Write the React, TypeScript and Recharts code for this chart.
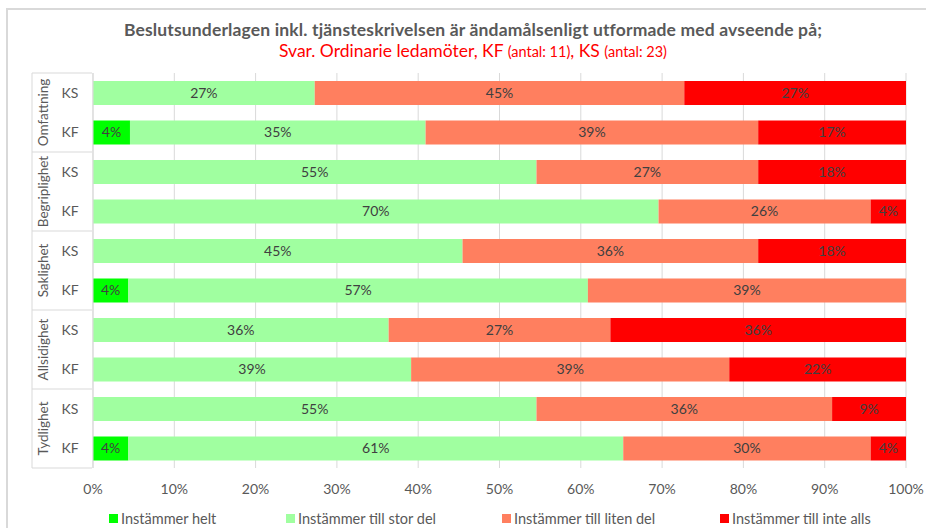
import { Bar, BarChart, CartesianGrid, LabelList, Legend, XAxis, YAxis } from "recharts";

const groups = ["Omfattning", "Begriplighet", "Saklighet", "Allsidighet", "Tydlighet"];
const bodies = ["KS", "KF"];

// raw shares per row (group x body), top to bottom
const helt = [0, 4.35, 0, 0, 0, 4.35, 0, 0, 0, 4.35];
const storDel = [27.27, 34.78, 54.55, 69.57, 45.45, 56.52, 36.36, 39.13, 54.55, 60.87];
const litenDel = [45.45, 39.13, 27.27, 26.09, 36.36, 39.13, 27.27, 39.13, 36.36, 30.43];
const inteAlls = [27.27, 17.39, 18.18, 4.35, 18.18, 0, 36.36, 21.74, 9.09, 4.35];

const xTicks = [0, 0.1, 0.2, 0.3, 0.4, 0.5, 0.6, 0.7, 0.8, 0.9, 1];

const series = [
  { key: "helt", name: "Instämmer helt", color: "#00FF00" },
  { key: "stor", name: "Instämmer till stor del", color: "#A0FFA0" },
  { key: "liten", name: "Instämmer till liten del", color: "#FF7F5F" },
  { key: "inte", name: "Instämmer till inte alls", color: "#FF0000" },
];

const rows = groups.flatMap((g, gi) =>
  bodies.map((b, bi) => {
    const i = gi * 2 + bi;
    return {
      id: `${g}|${b}`,
      helt: helt[i],
      stor: storDel[i],
      liten: litenDel[i],
      inte: inteAlls[i],
    };
  })
);

const FONT = "Lato, 'Open Sans', sans-serif";
const TOP = 73;
const BOTTOM = 468;
const ROW = (BOTTOM - TOP) / rows.length;

function GroupTick(props: any) {
  const { y, payload, index } = props;
  const [group, body] = String(payload.value).split("|");
  const isFirst = index % 2 === 0;
  return (
    <g>
      <text x={70} y={y} dy={5} textAnchor="middle" fill="#595959" fontSize={14} fontFamily={FONT}>
        {body}
      </text>
      {isFirst && (
        <g>
          <line x1={32} x2={92} y1={y - ROW / 2} y2={y - ROW / 2} stroke="#d9d9d9" />
          <line x1={32} x2={32} y1={y - ROW / 2} y2={y + ROW * 1.5} stroke="#d9d9d9" />
          <text
            x={43}
            y={y + ROW / 2}
            transform={`rotate(-90 43 ${y + ROW / 2})`}
            dy={5}
            textAnchor="middle"
            fill="#595959"
            fontSize={13.5}
            fontFamily={FONT}
          >
            {group}
          </text>
        </g>
      )}
      {!isFirst && index === rows.length - 1 && (
        <line x1={32} x2={92} y1={y + ROW / 2} y2={y + ROW / 2} stroke="#d9d9d9" />
      )}
    </g>
  );
}

function LegendRow() {
  const starts = [109, 286, 502, 720];
  return (
    <div style={{ height: 30, fontFamily: FONT }}>
      {series.map((s, i) => (
        <div
          key={s.key}
          style={{
            position: "absolute",
            left: starts[i],
            top: 12,
            display: "flex",
            alignItems: "center",
            gap: 3,
            fontSize: 14.5,
            color: "#595959",
          }}
        >
          <span style={{ width: 9, height: 9, background: s.color, display: "inline-block" }} />
          <span>{s.name}</span>
        </div>
      ))}
    </div>
  );
}

export default function App() {
  return (
    <div style={{ position: "absolute", left: 0, top: 0, width: 926, height: 528, overflow: "hidden", background: "#fff" }}>
      <div
        style={{
          position: "absolute",
          left: 6,
          top: 8,
          width: 940,
          height: 540,
          borderLeft: "2px solid #d9d9d9",
          borderTop: "2px solid #d9d9d9",
        }}
      />
      <div style={{ position: "absolute", top: 19, left: 10, width: 926, textAlign: "center", fontFamily: FONT }}>
        <div style={{ fontSize: 17.5, fontWeight: 700, color: "#595959", letterSpacing: 0.15 }}>
          Beslutsunderlagen inkl. tjänsteskrivelsen är ändamålsenligt utformade med avseende på;
        </div>
        <div style={{ fontSize: 17.5, color: "#FF0000", marginTop: 0 }}>
          Svar. Ordinarie ledamöter, KF <span style={{ fontSize: 14.5 }}>(antal: 11)</span>, KS{" "}
          <span style={{ fontSize: 14.5 }}>(antal: 23)</span>
        </div>
      </div>
      <div style={{ position: "absolute", left: 0, top: 0 }}>
        <BarChart
          width={926}
          height={528}
          data={rows}
          layout="vertical"
          stackOffset="expand"
          barSize={24}
          margin={{ top: TOP, right: 20, bottom: 0, left: 0 }}
        >
          <CartesianGrid horizontal={false} stroke="#d9d9d9" />
          <XAxis
            type="number"
            domain={[0, 1]}
            ticks={xTicks}
            tickFormatter={(v) => `${Math.round(v * 100)}%`}
            axisLine={false}
            tickLine={false}
            tickMargin={10}
            height={30}
            tick={{ fill: "#595959", fontSize: 14, fontFamily: FONT }}
          />
          <YAxis
            type="category"
            dataKey="id"
            width={93}
            axisLine={{ stroke: "#d9d9d9" }}
            tickLine={false}
            interval={0}
            tick={<GroupTick />}
          />
          <Legend verticalAlign="bottom" height={30} content={<LegendRow />} />
          {series.map((s) => (
            <Bar key={s.key} dataKey={s.key} name={s.name} stackId="a" fill={s.color} isAnimationActive={false}>
              <LabelList
                dataKey={s.key}
                position="center"
                formatter={(v: any) => (Number(v) > 0 ? `${Math.round(Number(v))}%` : "")}
                fill="#404040"
                fontSize={14}
                fontFamily={FONT}
              />
            </Bar>
          ))}
        </BarChart>
      </div>
    </div>
  );
}
